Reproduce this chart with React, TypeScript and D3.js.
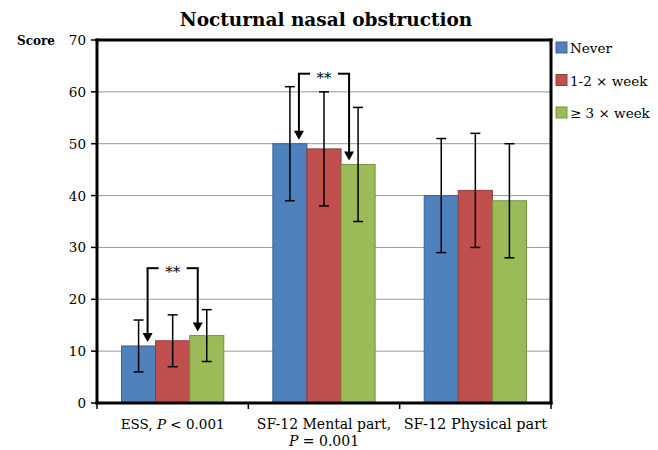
import React from "react";
import { scaleBand, scaleLinear } from "d3";

// data
const categories = ["ESS", "Mental", "Physical"];
const series = ["Never", "1-2 × week", "≥ 3 × week"];
const colors = ["#4F81BD", "#C0504D", "#9BBB59"];
const strokes = ["#3A6496", "#953B39", "#76923C"];
const means = [
  [11, 12, 13],
  [50, 49, 46],
  [40, 41, 39],
];
const errLow = [
  [6, 7, 8],
  [39, 38, 35],
  [29, 30, 28],
];
const errHigh = [
  [16, 17, 18],
  [61, 60, 57],
  [51, 52, 50],
];
const yTicks = [0, 10, 20, 30, 40, 50, 60, 70];
// significance brackets: category index, height of the bar joining them
const brackets = [
  { cat: 0, level: 26 },
  { cat: 1, level: 63.5 },
];

const W = 658;
const H = 450;
const margin = { left: 97, right: 107, top: 40, bottom: 47 };

export default function App() {
  const innerW = W - margin.left - margin.right;
  const innerH = H - margin.top - margin.bottom;

  const x0 = scaleBand<string>().domain(categories).range([margin.left, margin.left + innerW]);
  const x1 = scaleBand<string>()
    .domain(series)
    .range([0, x0.bandwidth()])
    .paddingInner(0)
    .paddingOuter(0.72);
  const y = scaleLinear().domain([0, 70]).range([margin.top + innerH, margin.top]);

  const font = "'DejaVu Serif', serif";
  const capW = 5;

  const arrow = (x: number, yTop: number, yTip: number, key: string) => {
    const hh = 9;
    const hw = 5;
    return (
      <g key={key}>
        <line x1={x} x2={x} y1={yTop} y2={yTip - hh + 1} stroke="#000" strokeWidth={2} />
        <polygon points={`${x - hw},${yTip - hh} ${x + hw},${yTip - hh} ${x},${yTip}`} fill="#000" />
      </g>
    );
  };

  const x0l = margin.left;
  const x0r = margin.left + innerW;
  const yt = margin.top;
  const yb = margin.top + innerH;

  return (
    <div style={{ position: "absolute", left: 0, top: 0 }}>
      <svg width={W} height={H} style={{ display: "block", background: "#fff" }} fontFamily={font}>
        <text x={326} y={26} textAnchor="middle" fontSize={18.5} fontWeight="bold">
          Nocturnal nasal obstruction
        </text>
        <text x={17} y={y(70) + 5} fontSize={12} fontWeight="bold">
          Score
        </text>

        {/* gridlines */}
        {yTicks.slice(1, -1).map((t) => (
          <line key={t} x1={x0l} x2={x0r} y1={y(t)} y2={y(t)} stroke="#999" strokeWidth={1} />
        ))}

        {/* y ticks and labels */}
        {yTicks.map((t) => (
          <g key={"yt" + t}>
            <line x1={x0l - 6} x2={x0l} y1={y(t)} y2={y(t)} stroke="#000" strokeWidth={1.5} />
            <text x={x0l - 11} y={y(t) + 5} textAnchor="end" fontSize={13.5}>
              {t}
            </text>
          </g>
        ))}

        {/* bars */}
        {categories.map((c, ci) => (
          <g key={c} transform={`translate(${x0(c)},0)`}>
            {series.map((s, si) => (
              <rect
                key={s}
                x={x1(s)}
                y={y(means[ci][si])}
                width={x1.bandwidth()}
                height={y(0) - y(means[ci][si])}
                fill={colors[si]}
                stroke={strokes[si]}
                strokeWidth={1}
              />
            ))}
          </g>
        ))}

        {/* error bars */}
        {categories.map((c, ci) =>
          series.map((s, si) => {
            const cx = (x0(c) as number) + (x1(s) as number) + x1.bandwidth() / 2;
            return (
              <g key={c + s} stroke="#000" strokeWidth={1.5}>
                <line x1={cx} x2={cx} y1={y(errLow[ci][si])} y2={y(errHigh[ci][si])} />
                <line x1={cx - capW} x2={cx + capW} y1={y(errLow[ci][si])} y2={y(errLow[ci][si])} />
                <line x1={cx - capW} x2={cx + capW} y1={y(errHigh[ci][si])} y2={y(errHigh[ci][si])} />
              </g>
            );
          })
        )}

        {/* significance brackets */}
        {brackets.map((b) => {
          const c = categories[b.cat];
          const bx = x0(c) as number;
          const xl = bx + (x1(series[0]) as number) + x1.bandwidth() / 2 + 9;
          const xr = bx + (x1(series[2]) as number) + x1.bandwidth() / 2 - 9;
          const xm = (xl + xr) / 2;
          const yl = y(b.level);
          const tipL = y(means[b.cat][0]) - 4;
          const tipR = y(means[b.cat][2]) - 4;
          return (
            <g key={c}>
              <line x1={xl - 1} x2={xm - 14} y1={yl} y2={yl} stroke="#000" strokeWidth={2} />
              <line x1={xm + 14} x2={xr + 1} y1={yl} y2={yl} stroke="#000" strokeWidth={2} />
              {arrow(xl, yl, tipL, "l")}
              {arrow(xr, yl, tipR, "r")}
              <text x={xm} y={yl + 9} textAnchor="middle" fontSize={15}>
                **
              </text>
            </g>
          );
        })}

        {/* frame */}
        <g stroke="#000" strokeWidth={3} strokeLinecap="square">
          <line x1={x0l} x2={x0l} y1={yt} y2={yb} />
          <line x1={x0r} x2={x0r} y1={yt} y2={yb} />
          <line x1={x0l} x2={x0r} y1={yt} y2={yt} />
          <line x1={x0l} x2={x0r} y1={yb} y2={yb} />
        </g>

        {/* x ticks */}
        {[0, 1, 2, 3].map((i) => {
          const xx = x0l + i * x0.bandwidth();
          return <line key={"xt" + i} x1={xx} x2={xx} y1={yb} y2={yb + 6} stroke="#000" strokeWidth={1.5} />;
        })}

        {/* x labels */}
        <text x={(x0("ESS") as number) + x0.bandwidth() / 2} y={429} textAnchor="middle" fontSize={13.5}>
          ESS,  <tspan fontStyle="italic">P</tspan> {"< 0.001"}
        </text>
        <text x={(x0("Mental") as number) + x0.bandwidth() / 2} y={429} textAnchor="middle" fontSize={14}>
          SF-12 Mental part,
        </text>
        <text x={(x0("Mental") as number) + x0.bandwidth() / 2} y={446} textAnchor="middle" fontSize={14}>
          <tspan fontStyle="italic">P</tspan> = 0.001
        </text>
        <text x={(x0("Physical") as number) + x0.bandwidth() / 2} y={429} textAnchor="middle" fontSize={14.5}>
          SF-12 Physical part
        </text>

        {/* legend */}
        {series.map((s, i) => (
          <g key={"lg" + s} transform={`translate(556, ${42 + i * 32.5})`}>
            <rect x={0} y={0} width={11} height={11} fill={colors[i]} stroke={strokes[i]} strokeWidth={1} />
            <text x={14} y={11} fontSize={13.5}>
              {s}
            </text>
          </g>
        ))}
      </svg>
    </div>
  );
}
